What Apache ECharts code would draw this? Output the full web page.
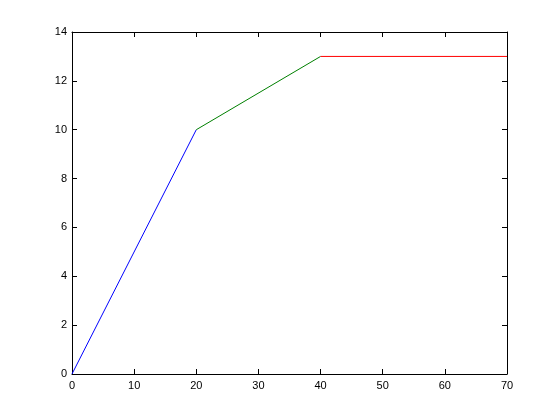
<!DOCTYPE html>
<html>
<head>
<meta charset="utf-8">
<script src="https://cdn.jsdelivr.net/npm/echarts@6/dist/echarts.min.js"></script>
<style>
  html, body { margin: 0; padding: 0; background: #fff; }
  #container { width: 560px; height: 420px; }
</style>
</head>
<body>
<div id="container"></div>
<script>
// segment data
var blueX = [0, 20];
var blueY = [0, 10];
var greenX = [20, 40];
var greenY = [10, 13];
var redX = [40, 70];
var redY = [13, 13];

function pairs(xs, ys) {
  var out = [];
  for (var i = 0; i < xs.length; i++) out.push([xs[i], ys[i]]);
  return out;
}

var dom = document.getElementById("container");
var myChart = echarts.init(dom);

var font = {color: '#000', fontFamily: 'Liberation Sans, Arial, sans-serif', fontSize: 11};
var lineStyle = {color: '#000', width: 1};

var option = {
  animation: false,
  backgroundColor: '#fff',
  grid: {left: 72, top: 32, right: 53, bottom: 46},
  xAxis: [
    {
      type: 'value', min: 0, max: 70, interval: 10, position: 'bottom',
      axisLine: {show: true, lineStyle: lineStyle},
      axisTick: {show: true, inside: true, length: 5, lineStyle: lineStyle},
      axisLabel: Object.assign({margin: 6}, font),
      splitLine: {show: false}
    },
    {
      type: 'value', min: 0, max: 70, interval: 10, position: 'top',
      axisLine: {show: true, onZero: false, lineStyle: lineStyle},
      axisTick: {show: true, inside: true, length: 5, lineStyle: lineStyle},
      axisLabel: {show: false},
      splitLine: {show: false}
    }
  ],
  yAxis: [
    {
      type: 'value', min: 0, max: 14, interval: 2, position: 'left',
      axisLine: {show: true, lineStyle: lineStyle},
      axisTick: {show: true, inside: true, length: 5, lineStyle: lineStyle},
      axisLabel: Object.assign({margin: 5}, font),
      splitLine: {show: false}
    },
    {
      type: 'value', min: 0, max: 14, interval: 2, position: 'right',
      axisLine: {show: true, onZero: false, lineStyle: lineStyle},
      axisTick: {show: true, inside: true, length: 5, lineStyle: lineStyle},
      axisLabel: {show: false},
      splitLine: {show: false}
    }
  ],
  series: [
    {
      type: 'line', data: pairs(blueX, blueY), showSymbol: false,
      lineStyle: {color: '#0000ff', width: 1}
    },
    {
      type: 'line', data: pairs(greenX, greenY), showSymbol: false,
      lineStyle: {color: '#008000', width: 1}
    },
    {
      type: 'line', data: pairs(redX, redY), showSymbol: false,
      lineStyle: {color: '#ff0000', width: 1}
    }
  ]
};

myChart.setOption(option, true);
</script>
</body>
</html>
